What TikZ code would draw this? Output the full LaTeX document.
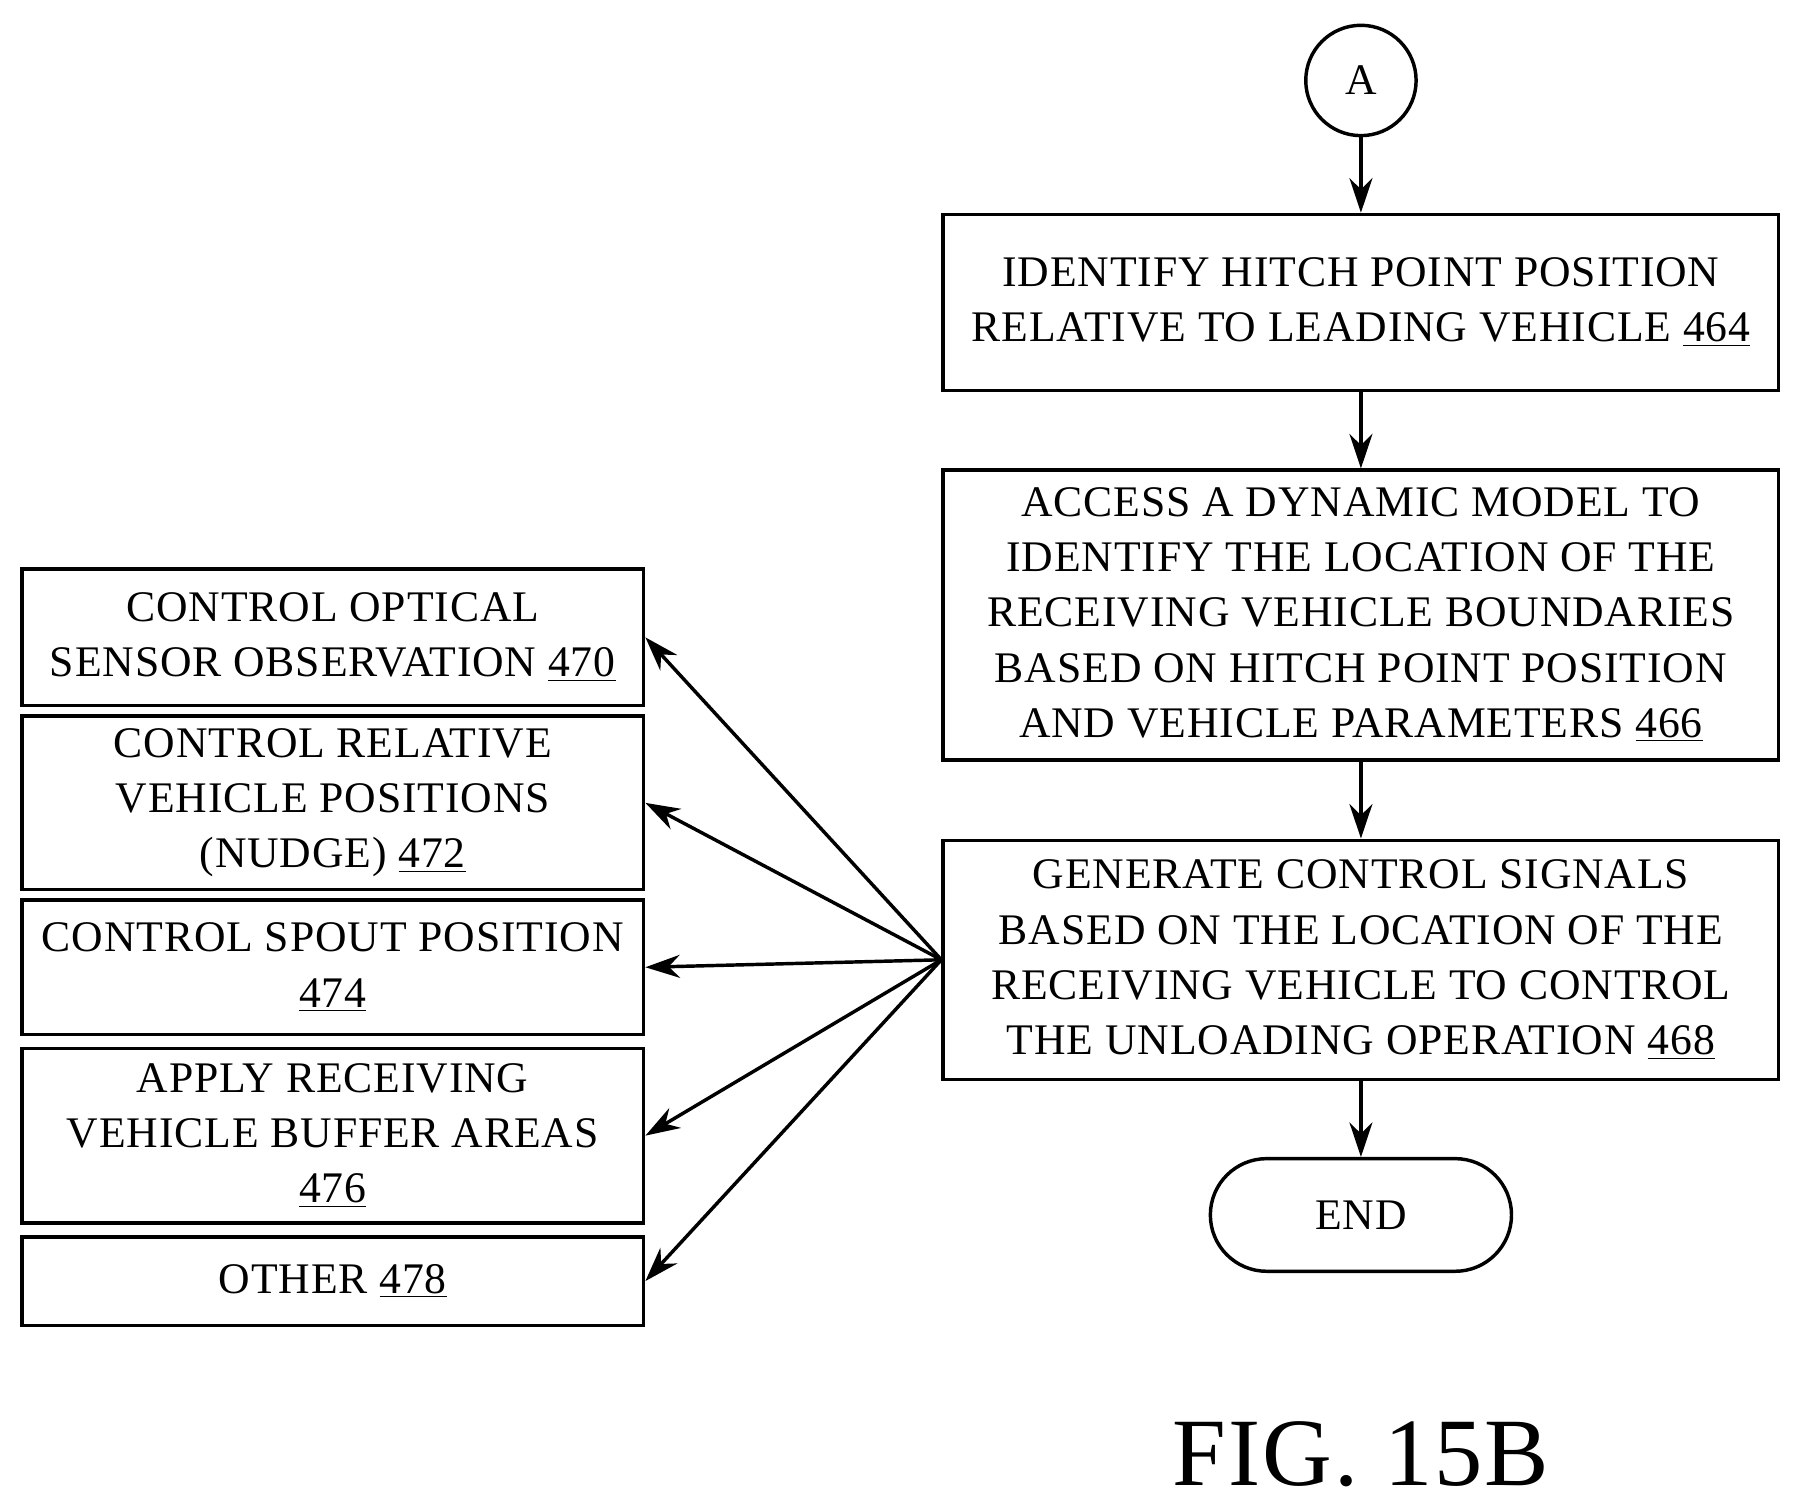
\documentclass[tikz,border=0pt]{standalone}
\usepackage{fontspec}
\setmainfont{Liberation Serif}[LetterSpace=2]
\usetikzlibrary{arrows.meta, positioning, shapes.misc}

\begin{document}
\begin{tikzpicture}[x=0.5pt, y=-0.5pt, >={Stealth[length=15pt,width=10pt]},
  stepbox/.style={draw, line width=1.5pt, align=center, font=\fontsize{19}{24}\selectfont, inner sep=0pt},
  side/.style={stepbox, minimum width=270.5pt},
  flow/.style={->, line width=1.5pt}]

% Frame
\useasboundingbox (0,0) rectangle (1566,1306);

% Main column
\node[draw, circle, line width=1.5pt, minimum size=48pt, inner sep=0pt, font=\fontsize{19}{24}\selectfont] (A) at (1184,70) {A};
\node[stepbox, minimum width=363.5pt, minimum height=76.5pt] (s464) at (1184,263)
  {IDENTIFY HITCH POINT POSITION\\RELATIVE TO LEADING VEHICLE \underline{464}};
\node[stepbox, minimum width=363.5pt, minimum height=126pt] (s466) at (1184,535)
  {ACCESS A DYNAMIC MODEL TO\\IDENTIFY THE LOCATION OF THE\\RECEIVING VEHICLE BOUNDARIES\\BASED ON HITCH POINT POSITION\\AND VEHICLE PARAMETERS \underline{466}};
\node[stepbox, minimum width=363.5pt, minimum height=104pt] (s468) at (1184,835)
  {GENERATE CONTROL SIGNALS\\BASED ON THE LOCATION OF THE\\RECEIVING VEHICLE TO CONTROL\\THE UNLOADING OPERATION \underline{468}};
\node[stepbox, rounded rectangle, minimum width=131pt, minimum height=49pt] (end) at (1184,1057) {END};

% Side column
\node[side, minimum height=59.5pt] (s470) at (289.5,554.5)
  {CONTROL OPTICAL\\SENSOR OBSERVATION \underline{470}};
\node[side, minimum height=75.5pt] (s472) at (289.5,698.5)
  {CONTROL RELATIVE\\VEHICLE POSITIONS\\(NUDGE) \underline{472}};
\node[side, minimum height=58.5pt] (s474) at (289.5,841.5)
  {CONTROL SPOUT POSITION\\\underline{474}};
\node[side, minimum height=76pt] (s476) at (289.5,988)
  {APPLY RECEIVING\\VEHICLE BUFFER AREAS\\\underline{476}};
\node[side, minimum height=38.5pt] (s478) at (289.5,1114.5)
  {OTHER \underline{478}};

% Connectors
\draw[flow] (A) -- (s464);
\draw[flow] (s464) -- (s466);
\draw[flow] (s466) -- (s468);
\draw[flow] (s468) -- (end);
\foreach \n in {470,472,474,476,478}
  \draw[flow] (s468.west) -- (s\n.east);

\node[font=\fontsize{42}{48}\selectfont] (fig) at (1184,1265) {FIG. 15B};
\end{tikzpicture}
\end{document}
